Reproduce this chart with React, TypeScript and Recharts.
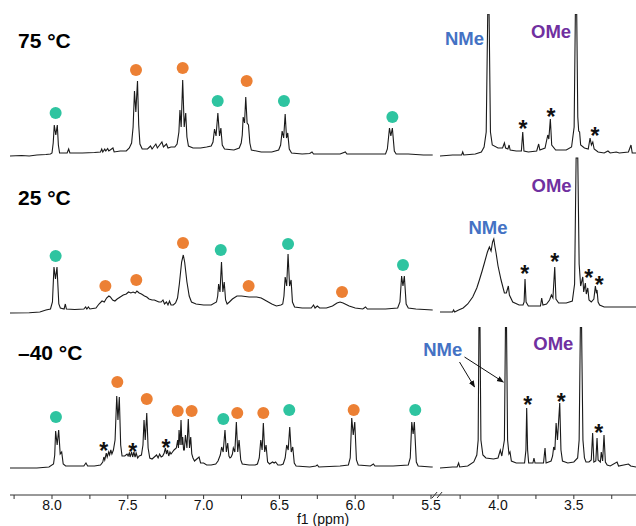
import { ComposedChart, Line, Scatter, XAxis, YAxis, ReferenceLine } from 'recharts';

// x axis is broken between 5.46 and 4.40 ppm; right part is shifted left by SHIFT
const SHIFT = 1.058;
const X_DOMAIN = [4.148, 8.277];
const disp = (p: number) => (p < 5 ? p + SHIFT : p);

const TEAL = '#2ec4a0';
const ORANGE = '#ec8034';
const NME_BLUE = '#4472c4';
const OME_PURPLE = '#7030a0';
const INK = '#1a1a1a';
const FONT = '"Liberation Sans", Arial, Helvetica, sans-serif';

const TICKS_LEFT = [8.25, 8.0, 7.75, 7.5, 7.25, 7.0, 6.75, 6.5, 6.25, 6.0, 5.75, 5.5];
const TICKS_RIGHT = [4.25, 4.0, 3.75, 3.5, 3.25];

// [ppm, intensity]
const TOP_LEFT = [
  [8.277, 1], [8.2, 1.5], [8.15, 1], [8.1, 2], [8.04, 2.5], [8.01, 3],
  [8.0, 4], [7.992, 14], [7.985, 32], [7.975, 22], [7.965, 32], [7.958, 12], [7.95, 4],
  [7.9, 4], [7.89, 8], [7.882, 4], [7.8, 4], [7.72, 4.5], [7.68, 5], [7.672, 8], [7.665, 5], [7.652, 8], [7.645, 6],
  [7.633, 8.5], [7.625, 6], [7.598, 9], [7.59, 5], [7.55, 6], [7.51, 6], [7.49, 9], [7.475, 14], [7.465, 30],
  [7.456, 66], [7.447, 45], [7.436, 76], [7.428, 32], [7.42, 13], [7.405, 8], [7.37, 8], [7.35, 11], [7.34, 8],
  [7.315, 13], [7.305, 9], [7.29, 12], [7.275, 15], [7.265, 10], [7.245, 13], [7.235, 9], [7.215, 10], [7.19, 10],
  [7.175, 13], [7.163, 25], [7.156, 47], [7.148, 30], [7.138, 77], [7.128, 30], [7.118, 44], [7.11, 20], [7.1, 11],
  [7.07, 9], [7.02, 9], [6.98, 10], [6.95, 11], [6.938, 15], [6.928, 28], [6.918, 21], [6.906, 44], [6.895, 21],
  [6.886, 29], [6.877, 12], [6.862, 8], [6.8, 7], [6.765, 9], [6.752, 14], [6.745, 22], [6.739, 40], [6.73, 34],
  [6.722, 60], [6.713, 34], [6.704, 32], [6.695, 14], [6.685, 7], [6.62, 5], [6.55, 5], [6.505, 7], [6.492, 12],
  [6.482, 26], [6.472, 19], [6.462, 43], [6.453, 19], [6.445, 24], [6.435, 8], [6.42, 4], [6.35, 3], [6.3, 3.5],
  [6.285, 5], [6.275, 3], [6.2, 3], [6.1, 3], [6.065, 5], [6.055, 3], [5.95, 3], [5.85, 3], [5.8, 3], [5.788, 8],
  [5.774, 29], [5.765, 21], [5.755, 29], [5.742, 6], [5.73, 3], [5.65, 3], [5.55, 2], [5.489, 2],
];
const TOP_RIGHT = [
  [4.383, 1], [4.3, 2], [4.24, 2], [4.233, 5], [4.226, 2], [4.15, 3], [4.11, 5], [4.092, 10], [4.078, 25],
  [4.068, 143], [4.059, 143], [4.05, 25], [4.038, 12], [4.0, 9], [3.97, 9], [3.958, 14], [3.95, 9], [3.935, 8],
  [3.927, 12], [3.92, 7], [3.88, 6], [3.846, 6], [3.837, 25], [3.829, 6], [3.8, 5], [3.745, 6], [3.732, 13],
  [3.724, 7], [3.69, 9], [3.672, 22], [3.665, 18], [3.655, 38], [3.646, 12], [3.62, 7], [3.55, 7], [3.515, 10],
  [3.498, 30], [3.49, 143], [3.481, 143], [3.474, 40], [3.468, 26], [3.462, 25], [3.455, 12], [3.43, 9], [3.405, 8],
  [3.393, 19], [3.384, 12], [3.375, 15], [3.366, 8], [3.34, 5], [3.3, 4], [3.275, 6], [3.26, 4], [3.22, 5], [3.2, 4],
  [3.14, 5], [3.123, 12], [3.115, 4], [3.09, 4],
];
const TOP_TEAL = [[7.976, 44], [6.907, 56], [6.47, 56], [5.755, 40]];
const TOP_ORANGE = [[7.446, 87], [7.138, 89], [6.716, 76]];
const TOP_STARS = [[3.835, 33], [3.65, 45], [3.36, 26]];

const MID_LEFT = [
  [8.277, 1], [8.15, 1.3], [8.08, 2], [8.04, 4], [8.01, 5], [7.997, 12], [7.987, 47], [7.977, 35], [7.967, 47],
  [7.955, 10], [7.945, 6], [7.92, 5], [7.912, 10], [7.905, 5], [7.85, 4.5], [7.79, 5], [7.778, 7], [7.77, 5],
  [7.76, 7], [7.75, 5], [7.71, 6], [7.69, 10], [7.67, 13], [7.655, 12], [7.64, 16], [7.625, 18], [7.615, 17],
  [7.6, 14], [7.585, 13], [7.57, 15], [7.55, 17], [7.53, 19], [7.51, 20], [7.495, 22], [7.48, 21], [7.465, 22],
  [7.45, 21], [7.44, 23], [7.425, 21], [7.41, 20], [7.39, 18], [7.375, 17], [7.36, 15], [7.34, 14], [7.325, 14],
  [7.31, 13], [7.295, 12], [7.28, 12], [7.268, 14], [7.258, 10], [7.245, 12], [7.235, 9], [7.225, 13], [7.215, 9],
  [7.2, 9], [7.185, 11], [7.172, 16], [7.16, 30], [7.145, 52], [7.134, 59], [7.125, 52], [7.11, 32], [7.095, 18],
  [7.08, 12], [7.05, 10], [7.0, 9], [6.95, 9], [6.915, 12], [6.907, 18], [6.901, 30], [6.892, 22], [6.882, 52],
  [6.873, 22], [6.864, 32], [6.855, 14], [6.845, 10], [6.83, 12], [6.81, 15], [6.78, 18], [6.75, 18], [6.7, 17],
  [6.65, 17], [6.62, 16], [6.585, 13], [6.55, 10], [6.52, 8], [6.49, 9], [6.478, 10], [6.47, 18], [6.462, 37],
  [6.452, 28], [6.443, 60], [6.433, 28], [6.423, 34], [6.414, 12], [6.4, 7], [6.35, 6], [6.29, 6], [6.275, 9],
  [6.265, 6], [6.25, 8], [6.235, 6], [6.19, 6], [6.15, 8], [6.12, 11], [6.1, 12], [6.08, 11], [6.04, 8], [6.0, 6],
  [5.95, 5], [5.932, 7], [5.92, 5], [5.8, 5], [5.72, 6], [5.705, 12], [5.694, 38], [5.685, 28], [5.676, 38],
  [5.664, 10], [5.65, 6], [5.6, 5], [5.489, 4],
];
const MID_RIGHT = [
  [4.383, 2], [4.3, 2], [4.293, 4], [4.286, 2], [4.26, 4], [4.23, 6], [4.2, 10], [4.167, 17], [4.14, 26],
  [4.123, 34], [4.105, 43], [4.09, 51], [4.07, 62], [4.057, 67], [4.046, 63], [4.036, 72], [4.028, 75], [4.02, 67],
  [4.013, 61], [4.0, 48], [3.98, 34], [3.958, 21], [3.945, 21], [3.932, 28], [3.925, 19], [3.903, 12], [3.861, 9],
  [3.835, 9], [3.828, 12], [3.822, 35], [3.815, 12], [3.8, 8], [3.76, 8], [3.72, 8], [3.712, 16], [3.704, 9],
  [3.68, 10], [3.66, 14], [3.648, 19], [3.638, 16], [3.626, 47], [3.618, 15], [3.6, 11], [3.55, 11], [3.51, 13],
  [3.495, 30], [3.485, 156], [3.474, 156], [3.465, 50], [3.455, 28], [3.441, 37], [3.435, 22], [3.424, 31],
  [3.418, 20], [3.408, 26], [3.4, 14], [3.385, 12], [3.368, 15], [3.358, 28], [3.352, 22], [3.347, 24], [3.34, 12],
  [3.33, 9], [3.3, 7], [3.25, 7], [3.09, 7],
];
const MID_TEAL = [[7.976, 58], [6.887, 64], [6.443, 70], [5.685, 49]];
const MID_ORANGE = [[7.648, 28], [7.444, 34], [7.136, 71], [6.703, 28], [6.087, 22]];
const MID_STARS = [[3.824, 45], [3.626, 57], [3.402, 41], [3.332, 34]];

const BOT_LEFT = [
  [8.277, 2], [8.1, 2], [8.02, 3], [7.99, 6], [7.982, 15], [7.976, 39], [7.966, 25], [7.956, 40], [7.946, 16],
  [7.936, 18], [7.926, 6], [7.91, 4], [7.85, 4], [7.79, 4], [7.776, 7], [7.765, 4], [7.72, 4], [7.68, 5],
  [7.665, 8], [7.658, 13], [7.652, 10], [7.642, 17], [7.636, 13], [7.626, 18], [7.62, 15], [7.612, 20], [7.605, 16],
  [7.595, 20], [7.584, 30], [7.573, 74], [7.565, 50], [7.556, 73], [7.547, 25], [7.538, 14], [7.52, 14],
  [7.505, 16], [7.498, 14], [7.49, 17], [7.485, 13], [7.475, 18], [7.468, 13], [7.46, 18], [7.452, 13], [7.445, 17],
  [7.435, 12], [7.425, 14], [7.41, 15], [7.4, 25], [7.393, 50], [7.385, 30], [7.375, 57], [7.366, 22], [7.355, 12],
  [7.34, 11], [7.325, 13], [7.31, 15], [7.3, 12], [7.29, 16], [7.28, 13], [7.27, 14], [7.26, 17], [7.252, 22],
  [7.245, 16], [7.238, 20], [7.23, 14], [7.222, 18], [7.215, 16], [7.205, 18], [7.195, 20], [7.18, 22], [7.171, 30],
  [7.166, 22], [7.162, 40], [7.155, 25], [7.149, 50], [7.143, 25], [7.138, 33], [7.132, 20], [7.127, 20], [7.12, 35],
  [7.11, 22], [7.101, 51], [7.093, 22], [7.085, 33], [7.078, 16], [7.07, 12], [7.06, 9], [7.045, 11], [7.03, 13],
  [7.02, 7], [7.0, 7], [6.98, 5], [6.95, 5], [6.92, 6], [6.905, 9], [6.89, 15], [6.881, 23], [6.871, 18],
  [6.859, 40], [6.85, 18], [6.841, 27], [6.833, 14], [6.826, 12], [6.818, 13], [6.81, 16], [6.804, 22], [6.794, 18],
  [6.784, 48], [6.775, 18], [6.766, 30], [6.755, 10], [6.745, 6], [6.7, 5], [6.66, 5], [6.645, 6], [6.633, 12],
  [6.623, 30], [6.614, 20], [6.606, 47], [6.597, 18], [6.588, 25], [6.578, 8], [6.565, 6], [6.545, 8], [6.535, 7],
  [6.525, 8], [6.51, 5], [6.49, 5], [6.475, 6], [6.462, 12], [6.452, 25], [6.442, 20], [6.432, 43], [6.422, 18],
  [6.412, 23], [6.402, 7], [6.39, 4], [6.3, 3], [6.26, 4], [6.25, 5], [6.24, 3], [6.1, 4], [6.045, 5], [6.033, 12],
  [6.023, 52], [6.013, 35], [6.003, 48], [5.992, 10], [5.98, 5], [5.9, 4], [5.88, 6], [5.87, 4], [5.75, 4],
  [5.65, 5], [5.637, 12], [5.627, 48], [5.618, 36], [5.61, 48], [5.597, 8], [5.585, 4], [5.5, 3], [5.489, 3],
];
const BOT_RIGHT = [
  [4.383, 2], [4.3, 3], [4.27, 3], [4.26, 7], [4.253, 3], [4.2, 4], [4.16, 8], [4.14, 15], [4.131, 30],
  [4.126, 143], [4.119, 143], [4.113, 30], [4.1, 15], [4.08, 12], [4.03, 11], [4.0, 12], [3.985, 20], [3.975, 14],
  [3.958, 30], [3.951, 143], [3.944, 143], [3.937, 30], [3.928, 16], [3.921, 18], [3.912, 9], [3.88, 7],
  [3.85, 7], [3.825, 7], [3.816, 20], [3.811, 62], [3.805, 20], [3.798, 7], [3.77, 7], [3.763, 12], [3.756, 7],
  [3.7, 7], [3.69, 22], [3.683, 7], [3.65, 9], [3.64, 14], [3.633, 23], [3.625, 20], [3.617, 47], [3.608, 30],
  [3.593, 67], [3.585, 20], [3.575, 9], [3.54, 7], [3.5, 8], [3.475, 12], [3.465, 30], [3.457, 143], [3.449, 143],
  [3.44, 30], [3.43, 12], [3.42, 8], [3.4, 8], [3.385, 10], [3.376, 37], [3.368, 8], [3.355, 9], [3.347, 32],
  [3.34, 10], [3.325, 8], [3.319, 18], [3.31, 9], [3.301, 35], [3.292, 8], [3.28, 5], [3.26, 4], [3.215, 8],
  [3.205, 4], [3.14, 6], [3.125, 4], [3.09, 3],
];
const BOT_TEAL = [[7.974, 53], [6.87, 51], [6.435, 60], [5.604, 60]];
const BOT_ORANGE = [[7.569, 88], [7.375, 71], [7.171, 59], [7.079, 59], [6.778, 57], [6.606, 57], [6.01, 60]];
const BOT_STARS = [[7.659, 24], [7.468, 23], [7.248, 27], [3.804, 70], [3.584, 73], [3.336, 42]];
const BOT_ARROWS = [
  [[4.254, 108], [4.155, 83]],
  [[4.221, 113], [3.965, 88]],
];

// labels: [ppm, intensity, text, colour]
const TOP_LABELS: [number, number, string, string][] = [[4.221, 118.5, 'NMe', NME_BLUE], [3.65, 126, 'OMe', OME_PURPLE]];
const MID_LABELS: [number, number, string, string][] = [[4.066, 86.5, 'NMe', NME_BLUE], [3.647, 128.5, 'OMe', OME_PURPLE]];
const BOT_LABELS: [number, number, string, string][] = [[4.365, 121, 'NMe', NME_BLUE], [3.635, 126.5, 'OMe', OME_PURPLE]];

const TITLES = [
  { text: '75 °C', y: 48 },
  { text: '25 °C', y: 205 },
  { text: '–40 °C', y: 360 },
];

const toPts = (arr: number[][]) => arr.map(([p, v]) => ({ x: disp(p), y: v }));
const toLabels = (arr: [number, number, string, string][]) =>
  arr.map(([p, v, text, color]) => ({ x: disp(p), y: v, text, color }));

const xTicks = [...TICKS_LEFT, ...TICKS_RIGHT.map(disp)];
const tickLabel = (v: number) => {
  const real = Math.round((v < 5.45 ? v - SHIFT : v) * 100) / 100;
  return Math.abs(real * 2 - Math.round(real * 2)) < 1e-6 ? real.toFixed(1) : '';
};

const dotShape = (color: string) => (props: any) => (
  <circle cx={props.cx} cy={props.cy} r={6} fill={color} />
);
const starShape = (props: any) => (
  <text x={props.cx} y={props.cy + 13} textAnchor="middle" fontSize={23} fontWeight="bold" fontFamily={FONT} fill="#111">
    *
  </text>
);
const labelShape = (props: any) => (
  <text
    x={props.cx}
    y={props.cy}
    textAnchor="middle"
    dominantBaseline="central"
    fontSize={18.5}
    fontWeight="bold"
    fontFamily={FONT}
    fill={props.payload.color}
  >
    {props.payload.text}
  </text>
);

interface PanelProps {
  top: number;
  height: number;
  yDomain: number[];
  left: number[][];
  right: number[][];
  teal: number[][];
  orange: number[][];
  stars: number[][];
  labels: [number, number, string, string][];
  arrows?: number[][][];
  axis?: boolean;
}

function Panel({ top, height, yDomain, left, right, teal, orange, stars, labels, arrows = [], axis = false }: PanelProps) {
  return (
    <div style={{ position: 'absolute', left: 0, top }}>
      <ComposedChart width={636} height={height} margin={{ top: 0, right: 0, bottom: 0, left: 10 }}>
        <defs>
          <marker id="arrowHead" viewBox="0 0 10 10" refX="9" refY="5" markerWidth="7" markerHeight="7" orient="auto">
            <path d="M0,1 L10,5 L0,9 z" fill="#111" />
          </marker>
        </defs>
        <XAxis
          type="number"
          dataKey="x"
          domain={X_DOMAIN}
          reversed
          allowDataOverflow
          hide={!axis}
          ticks={xTicks}
          interval={0}
          tickFormatter={tickLabel}
          tickSize={4}
          tickMargin={1}
          height={31}
          stroke="#333"
          tick={{ fill: '#111', fontSize: 14, fontFamily: FONT }}
          label={axis ? { value: 'f1 (ppm)', position: 'insideBottom', offset: 2, fill: '#111', fontSize: 14, fontFamily: FONT } : undefined}
        />
        <YAxis type="number" dataKey="y" domain={yDomain} hide allowDataOverflow />
        <Line data={toPts(left)} dataKey="y" type="linear" stroke={INK} strokeWidth={1.1} dot={false} isAnimationActive={false} />
        <Line data={toPts(right)} dataKey="y" type="linear" stroke={INK} strokeWidth={1.1} dot={false} isAnimationActive={false} />
        {arrows.map((a, i) => (
          <ReferenceLine
            key={i}
            segment={[{ x: disp(a[0][0]), y: a[0][1] }, { x: disp(a[1][0]), y: a[1][1] }]}
            stroke="#111"
            strokeWidth={1}
            markerEnd="url(#arrowHead)"
            ifOverflow="visible"
          />
        ))}
        {axis && (
          <ReferenceLine segment={[{ x: 5.493, y: -28 }, { x: 5.46, y: -22 }]} stroke="#333" ifOverflow="visible" />
        )}
        {axis && (
          <ReferenceLine segment={[{ x: 5.46, y: -28 }, { x: 5.427, y: -22 }]} stroke="#333" ifOverflow="visible" />
        )}
        <Scatter data={toPts(teal)} dataKey="y" shape={dotShape(TEAL)} isAnimationActive={false} />
        <Scatter data={toPts(orange)} dataKey="y" shape={dotShape(ORANGE)} isAnimationActive={false} />
        <Scatter data={toPts(stars)} dataKey="y" shape={starShape} isAnimationActive={false} />
        <Scatter data={toLabels(labels)} dataKey="y" shape={labelShape} isAnimationActive={false} />
      </ComposedChart>
    </div>
  );
}

export default function App() {
  return (
    <div style={{ position: 'absolute', left: 0, top: 0, width: 636, height: 526, background: '#fff', fontFamily: FONT }}>
      <Panel top={14} height={143} yDomain={[0, 143]} left={TOP_LEFT} right={TOP_RIGHT}
        teal={TOP_TEAL} orange={TOP_ORANGE} stars={TOP_STARS} labels={TOP_LABELS} />
      <Panel top={157} height={157} yDomain={[0, 157]} left={MID_LEFT} right={MID_RIGHT}
        teal={MID_TEAL} orange={MID_ORANGE} stars={MID_STARS} labels={MID_LABELS} />
      <Panel top={327} height={199} yDomain={[-25, 143]} left={BOT_LEFT} right={BOT_RIGHT}
        teal={BOT_TEAL} orange={BOT_ORANGE} stars={BOT_STARS} labels={BOT_LABELS} arrows={BOT_ARROWS} axis />
      <svg width={636} height={526} style={{ position: 'absolute', left: 0, top: 0, pointerEvents: 'none' }}>
        {TITLES.map((t) => (
          <text key={t.text} x={18} y={t.y} fontSize={21} fontWeight="bold" fontFamily={FONT} fill="#000">
            {t.text}
          </text>
        ))}
      </svg>
    </div>
  );
}
